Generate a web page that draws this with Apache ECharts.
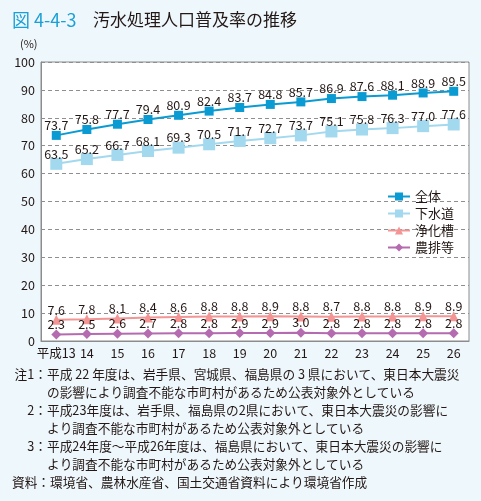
<!DOCTYPE html>
<html><head><meta charset="utf-8">
<script src="https://cdn.jsdelivr.net/npm/echarts@6/dist/echarts.min.js"></script>
<style>html,body{margin:0;padding:0;background:#eef7fc;}#c{width:481px;height:501px;}</style>
</head><body><div id="c"></div>
<script>
const categories = ['平成13','14','15','16','17','18','19','20','21','22','23','24','25','26'];
const total  = [73.7,75.8,77.7,79.4,80.9,82.4,83.7,84.8,85.7,86.9,87.6,88.1,88.9,89.5];
const sewer  = [63.5,65.2,66.7,68.1,69.3,70.5,71.7,72.7,73.7,75.1,75.8,76.3,77.0,77.6];
const septic = [7.6,7.8,8.1,8.4,8.6,8.8,8.8,8.9,8.8,8.7,8.8,8.8,8.9,8.9];
const agri   = [2.3,2.5,2.6,2.7,2.8,2.8,2.9,2.9,3.0,2.8,2.8,2.8,2.8,2.8];
const seriesNames = ['全体','下水道','浄化槽','農排等'];
const yTicks = [0,10,20,30,40,50,60,70,80,90,100];
const notes = [
  ['注1：','平成 22 年度は、岩手県、宮城県、福島県の 3 県において、東日本大震災'],
  ['','の影響により調査不能な市町村があるため公表対象外としている'],
  ['2：','平成23年度は、岩手県、福島県の2県において、東日本大震災の影響に'],
  ['','より調査不能な市町村があるため公表対象外としている'],
  ['3：','平成24年度～平成26年度は、福島県において、東日本大震災の影響に'],
  ['','より調査不能な市町村があるため公表対象外としている']
];
const source = '資料：環境省、農林水産省、国土交通省資料により環境省作成';

const FONT = '"Noto Sans CJK JP", "Noto Sans", sans-serif';
const TXT = '#231815';
const chart = echarts.init(document.getElementById('c'));

function mkSeries(name, data, color, symbol, size) {
  return {
    name, type: 'line', data, symbol, symbolSize: size,
    itemStyle: {color: color},
    lineStyle: {color: color, width: 2},
    label: {show: true, position: 'inside', offset: [0, -10], color: TXT, fontSize: 12.5, fontFamily: FONT,
      formatter: p => Number(p.value).toFixed(1)},
    z: 3
  };
}

const graphics = [
  {type:'text', left: 12, top: 11, style:{text:'図 4-4-3', fill:'#1a9fd6', font:'18px ' + FONT}},
  {type:'text', left: 93, top: 11, style:{text:'汚水処理人口普及率の推移', fill:TXT, font:'17px ' + FONT}},
  {type:'text', left: 20, top: 38, style:{text:'(%)', fill:TXT, font:'11px ' + FONT}}
];
notes.forEach((n, i) => {
  const y = 374 + i * 18;
  if (n[0]) graphics.push({type:'text', x: 47, y: y, style:{text:n[0], fill:TXT, font:'12.7px ' + FONT, textAlign:'right', textVerticalAlign:'middle'}});
  graphics.push({type:'text', x: 47, y: y, style:{text:n[1], fill:TXT, font:'12.7px ' + FONT, textAlign:'left', textVerticalAlign:'middle'}});
});
graphics.push({type:'text', x: 12, y: 482, style:{text:source, fill:TXT, font:'12.7px ' + FONT, textAlign:'left', textVerticalAlign:'middle'}});

chart.setOption({
  backgroundColor: '#eef7fc',
  animation: false,
  textStyle: {fontFamily: FONT},
  grid: {left: 41, top: 62, right: 12, bottom: 160, show: true, backgroundColor: '#fff', borderColor: '#8c8c8c', borderWidth: 1},
  legend: {
    orient: 'vertical', left: 382, top: 185, itemWidth: 22, itemHeight: 10, itemGap: 4,
    textStyle: {color: TXT, fontSize: 13, fontFamily: FONT},
    data: seriesNames
  },
  xAxis: {
    type: 'category', data: categories, boundaryGap: true,
    axisLine: {lineStyle: {color: '#8c8c8c'}},
    axisTick: {inside: true, length: 5, lineStyle: {color: '#8c8c8c'}},
    axisLabel: {color: TXT, fontSize: 12.5, margin: 6, fontFamily: FONT, interval: 0}
  },
  yAxis: {
    type: 'value', min: yTicks[0], max: yTicks[yTicks.length-1], interval: 10,
    axisLine: {show: true, lineStyle: {color: '#8c8c8c'}},
    axisTick: {show: false},
    axisLabel: {color: TXT, fontSize: 12.5, margin: 6, fontFamily: FONT},
    splitLine: {lineStyle: {color: '#8f8f8f', type: [4, 3], width: 1}}
  },
  graphic: graphics,
  series: [
    mkSeries(seriesNames[0], total, '#0a9bd2', 'rect', 9),
    mkSeries(seriesNames[1], sewer, '#a3d9ee', 'rect', 12),
    mkSeries(seriesNames[2], septic, '#f29594', 'triangle', 10),
    mkSeries(seriesNames[3], agri, '#b46bb0', 'diamond', 10)
  ]
});
</script></body></html>
